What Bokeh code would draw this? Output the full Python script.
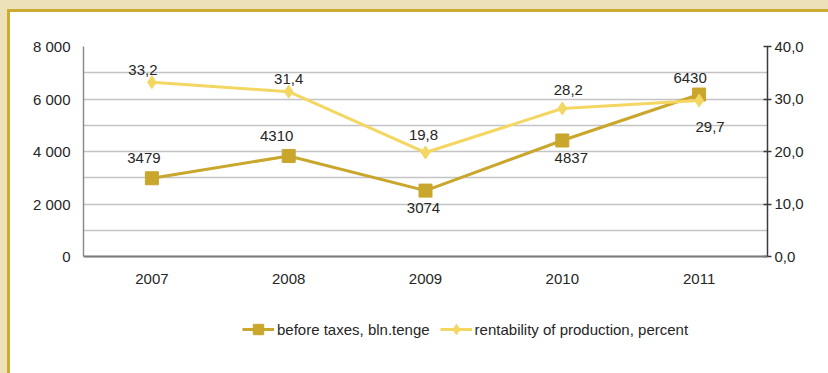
from bokeh.plotting import figure
from bokeh.models import (Range1d, LinearAxis, FixedTicker, ColumnDataSource,
                          Legend, LegendItem, Span)
from bokeh.core.properties import value
from bokeh.embed import file_html
from bokeh.resources import INLINE

# ---- data ----
years = ["2007", "2008", "2009", "2010", "2011"]
profit_drawn = [2980, 3830, 2510, 4420, 6170]          # marker heights as drawn
profit_labels = ["3479", "4310", "3074", "4837", "6430"]
rent = [33.2, 31.4, 19.8, 28.2, 29.7]
rent_labels = ["33,2", "31,4", "19,8", "28,2", "29,7"]
left_ticks = [0, 2000, 4000, 6000, 8000]
left_tick_labels = ["0", "2 000", "4 000", "6 000", "8 000"]
grid_ticks = [0, 1000, 2000, 3000, 4000, 5000, 6000, 7000, 8000]
right_ticks = [0, 10, 20, 30, 40]
right_tick_labels = ["0,0", "10,0", "20,0", "30,0", "40,0"]
series_names = ["before taxes, bln.tenge", "rentability of production, percent"]

# ---- label placement (styles) ----
profit_dx = [-8, -12, -2, 9, -9]
profit_dy = [-20, -20, 17, 18, -17]
rent_dx = [-9, 0, -2, 6, 11]
rent_dy = [-12, -13, -18, -18, 26]

GOLD = "#C9A62C"
LIGHT = "#F4D762"
TXT = "#262626"
FONT = "Liberation Sans"

# layout: value area is 210px tall inside a 299px frame (room for legend below)
LMAX, RMAX = left_ticks[-1], right_ticks[-1]
SCALE = 299 / 210
p = figure(x_range=years, y_range=Range1d(LMAX - LMAX * SCALE, LMAX),
           frame_width=684, frame_height=299,
           output_backend="svg", toolbar_location=None,
           min_border_left=73, min_border_right=61, min_border_top=34,
           min_border_bottom=28)
p.styles = {"margin-left": "7px", "margin-top": "9px",
            "border-top": "3px solid #CDAA30", "border-left": "3px solid #CDAA30",
            "background": "white"}
p.outline_line_color = None
p.background_fill_color = "white"
p.border_fill_color = "white"
p.extra_y_ranges = {"pct": Range1d(RMAX - RMAX * SCALE, RMAX)}

# grid
p.xgrid.grid_line_color = None
p.ygrid.ticker = FixedTicker(ticks=grid_ticks)
p.ygrid.grid_line_color = "#C4C4C4"
p.ygrid.grid_line_width = 1.5

# left axis
ya = p.yaxis[0]
ya.bounds = (0, LMAX)
ya.ticker = FixedTicker(ticks=left_ticks)
ya.major_label_overrides = {t: s for t, s in zip(left_ticks, left_tick_labels)}
ya.axis_line_color = "#8C8C8C"
ya.axis_line_width = 1.5
ya.major_tick_line_color = None
ya.minor_tick_line_color = None
ya.major_label_standoff = 7
ya.major_label_text_font = FONT
ya.major_label_text_font_size = "15px"
ya.major_label_text_color = TXT

# bottom axis: drawn as baseline + category texts at value 0
p.xaxis.visible = False
p.add_layout(Span(location=0, dimension="width", line_color="#7A7A7A", line_width=2))
p.text(x=years, y=[0] * len(years), text=years, y_offset=22,
       text_align="center", text_baseline="middle", text_font=value(FONT),
       text_font_size="15px", text_color=TXT)

# right axis
ra = LinearAxis(y_range_name="pct", ticker=FixedTicker(ticks=right_ticks),
                bounds=(0, RMAX))
ra.major_label_overrides = {t: s for t, s in zip(right_ticks, right_tick_labels)}
ra.axis_line_color = "#3A3A3A"
ra.axis_line_width = 1.5
ra.major_tick_line_color = "#3A3A3A"
ra.major_tick_line_width = 1.5
ra.major_tick_in = 4
ra.major_tick_out = 4
ra.minor_tick_line_color = None
ra.major_label_standoff = 3
ra.major_label_text_font = FONT
ra.major_label_text_font_size = "15px"
ra.major_label_text_color = TXT
p.add_layout(ra, "right")

src_p = ColumnDataSource(dict(x=years, y=profit_drawn, lab=profit_labels,
                              dx=profit_dx, dy=profit_dy))
src_r = ColumnDataSource(dict(x=years, y=rent, lab=rent_labels,
                              dx=rent_dx, dy=rent_dy))

l1 = p.line("x", "y", source=src_p, line_color=GOLD, line_width=3)
m1 = p.scatter("x", "y", source=src_p, marker="square", size=13,
               fill_color=GOLD, line_color=GOLD)
l2 = p.line("x", "y", source=src_r, y_range_name="pct", line_color=LIGHT, line_width=3)
m2 = p.scatter("x", "y", source=src_r, y_range_name="pct", marker="diamond", size=13,
               fill_color=LIGHT, line_color=LIGHT)

p.text("x", "y", text="lab", source=src_p, x_offset="dx", y_offset="dy",
       text_align="center", text_baseline="middle", text_font=value(FONT),
       text_font_size="15px", text_color=TXT)
p.text("x", "y", text="lab", source=src_r, y_range_name="pct", x_offset="dx",
       y_offset="dy", text_align="center", text_baseline="middle",
       text_font=value(FONT), text_font_size="15px", text_color=TXT)

legend = Legend(items=[LegendItem(label=series_names[0], renderers=[l1, m1]),
                       LegendItem(label=series_names[1], renderers=[l2, m2])],
                orientation="horizontal", location=(159, 3),
                glyph_width=32, glyph_height=26, label_standoff=3, spacing=10,
                padding=0, margin=0, border_line_color=None,
                background_fill_alpha=0,
                label_text_font=FONT, label_text_font_size="15px",
                label_text_color=TXT)
p.add_layout(legend, "center")

html = file_html(p, INLINE)
html = html.replace("<head>", "<head><style>body{background:#EDE1B8;}</style>", 1)
open("out.html", "w").write(html)
